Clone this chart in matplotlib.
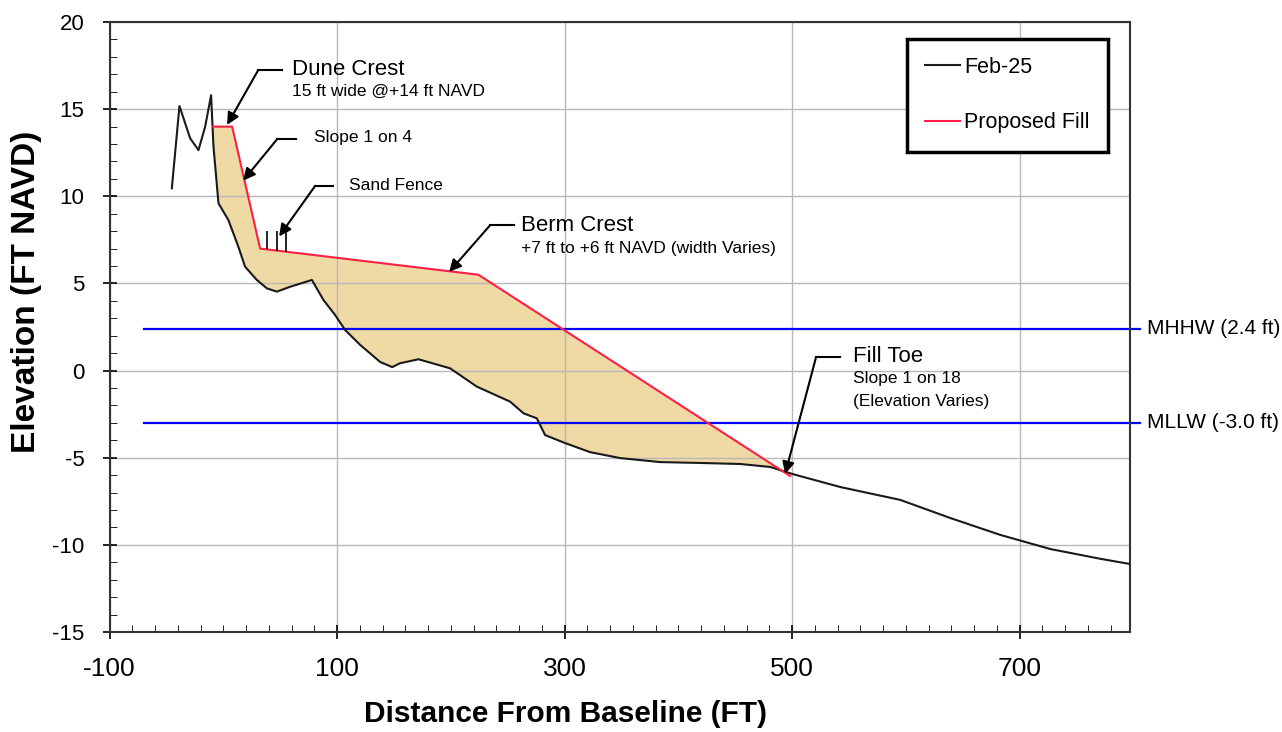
import matplotlib
matplotlib.use("Agg")
import matplotlib.pyplot as plt
import numpy as np

plt.rcParams['font.family'] = ['Liberation Sans', 'DejaVu Sans']
plt.rcParams['axes.unicode_minus'] = False

# surveyed profile Feb-25 (distance ft, elevation ft NAVD)
ground_x = [-45.3, -38.6, -29.2, -21.9, -16.0, -10.8, -8.7, -4.3, 4.4, 13.2, 19.1, 29.4,
            38.2, 47.0, 58.7, 77.8, 88.0, 98.2, 107.0, 120.3, 137.9, 148.4, 155.2, 171.5,
            199.3, 222.8, 252.0, 263.8, 275.5, 282.8, 300.4, 322.4, 348.8, 384.0, 419.2,
            454.4, 480.7, 500.0, 542.2, 595.0, 639.0, 683.0, 727.0, 771.0, 797.0]
ground_y = [10.46, 15.18, 13.33, 12.65, 14.0, 15.8, 12.85, 9.6, 8.64, 7.1, 5.96, 5.2,
            4.72, 4.53, 4.81, 5.2, 4.05, 3.19, 2.33, 1.47, 0.49, 0.2, 0.42, 0.65,
            0.13, -0.92, -1.78, -2.45, -2.74, -3.7, -4.16, -4.68, -5.02, -5.25, -5.3,
            -5.36, -5.53, -5.93, -6.68, -7.42, -8.46, -9.43, -10.24, -10.8, -11.1]

# proposed fill template
fill_x = [-9.0, 7.7, 32.3, 224.2, 498.2]
fill_y = [14.0, 14.0, 7.0, 5.5, -6.05]

# tidal datums
mhhw = 2.4
mllw = -3.0
datum_x = [-70, 806]

# sand fence posts
fence_x = [38.2, 47.0, 55.2]
fence_top = 8.0

fig = plt.figure(figsize=(12.82, 7.32), dpi=100)
ax = fig.add_axes([0.0855, 0.1366, 0.796, 0.8333])

# tan fill area between template and profile
gx = np.array(ground_x)
gy = np.array(ground_y)
mask = (gx > fill_x[0]) & (gx < fill_x[-1])
poly_x = list(fill_x) + list(gx[mask][::-1]) + [fill_x[0]]
poly_y = list(fill_y) + list(gy[mask][::-1]) + [np.interp(fill_x[0], gx, gy)]
ax.fill(poly_x, poly_y, color='#EFD9A4', lw=0, zorder=1)

ax.plot(ground_x, ground_y, color='#1a1a1a', lw=1.5, zorder=3, label='Feb-25')
ax.plot(fill_x, fill_y, color='#FF1F45', lw=1.5, zorder=4, label='Proposed Fill')

for yv, lab in [(mhhw, 'MHHW (2.4 ft)'), (mllw, 'MLLW (-3.0 ft)')]:
    ax.plot(datum_x, [yv, yv], color='#0000FF', lw=1.6, zorder=2, clip_on=False)
    ax.text(812, yv, lab, fontsize=15, va='center', ha='left')

fy = np.interp(fence_x, fill_x, fill_y)
ax.vlines(fence_x, fy, fence_top, color='black', lw=1.2, zorder=5)


def leader(tip, elbow, end, lines):
    ax.annotate('', xy=tip, xytext=elbow,
                arrowprops=dict(arrowstyle='-|>', color='black', lw=1.5,
                                mutation_scale=18, shrinkA=0, shrinkB=0), zorder=6)
    ax.plot([elbow[0], end[0]], [elbow[1], elbow[1]], color='black', lw=1.5, zorder=6)
    for (tx, ty, s, fs) in lines:
        ax.text(tx, ty, s, fontsize=fs, va='center', ha='left', zorder=6)


leader((3.3, 14.1), (30.7, 17.25), (51.6, 0),
       [(60.4, 17.25, 'Dune Crest', 16), (60.4, 16.0, '15 ft wide @+14 ft NAVD', 12.5)])
leader((17.4, 10.9), (47.3, 13.28), (64.0, 0),
       [(79.4, 13.4, 'Slope 1 on 4', 12.5)])
leader((49.0, 7.7), (80.7, 10.6), (96.5, 0),
       [(110.5, 10.6, 'Sand Fence', 12.5)])
leader((198.5, 5.66), (234.6, 8.35), (255.6, 0),
       [(261.7, 8.35, 'Berm Crest', 16), (261.7, 6.98, '+7 ft to +6 ft NAVD (width Varies)', 12.5)])
leader((493.8, -5.93), (521.0, 0.78), (542.0, 0),
       [(553.5, 0.78, 'Fill Toe', 16), (553.5, -0.48, 'Slope 1 on 18', 12.5),
        (553.5, -1.8, '(Elevation Varies)', 12.5)])

ax.set_xlim(-100, 797)
ax.set_ylim(-15, 20)
ax.set_xticks([-100, 100, 300, 500, 700])
ax.set_xticks(np.arange(-80, 800, 20), minor=True)
ax.set_yticks(np.arange(-15, 21, 5))
ax.set_yticks(np.arange(-15, 21, 1), minor=True)
ax.grid(True, which='major', color='#b8b8b8', lw=1)
ax.tick_params(axis='both', which='major', direction='inout', length=10, width=1.2)
ax.tick_params(axis='both', which='minor', direction='in', length=5)
ax.tick_params(axis='x', labelsize=19, pad=13)
ax.tick_params(axis='y', labelsize=16, pad=13)
for sp in ax.spines.values():
    sp.set_linewidth(1.5)
    sp.set_color('#333333')

ax.set_xlabel('Distance From Baseline (FT)', fontsize=21.5, fontweight='bold')
ax.set_ylabel('Elevation (FT NAVD)', fontsize=24, fontweight='bold')
ax.xaxis.set_label_coords(0.447, -0.112)
ax.yaxis.set_label_coords(-0.066, 0.557)

leg = ax.legend(loc='upper right', bbox_to_anchor=(0.978, 0.973), fontsize=15.5,
                handlelength=1.6, labelspacing=1.6, borderpad=0.85, handletextpad=0.2,
                fancybox=False, framealpha=1, borderaxespad=0)
leg.get_frame().set_edgecolor('black')
leg.get_frame().set_linewidth(2.5)

fig.savefig('out.png', dpi=100)
